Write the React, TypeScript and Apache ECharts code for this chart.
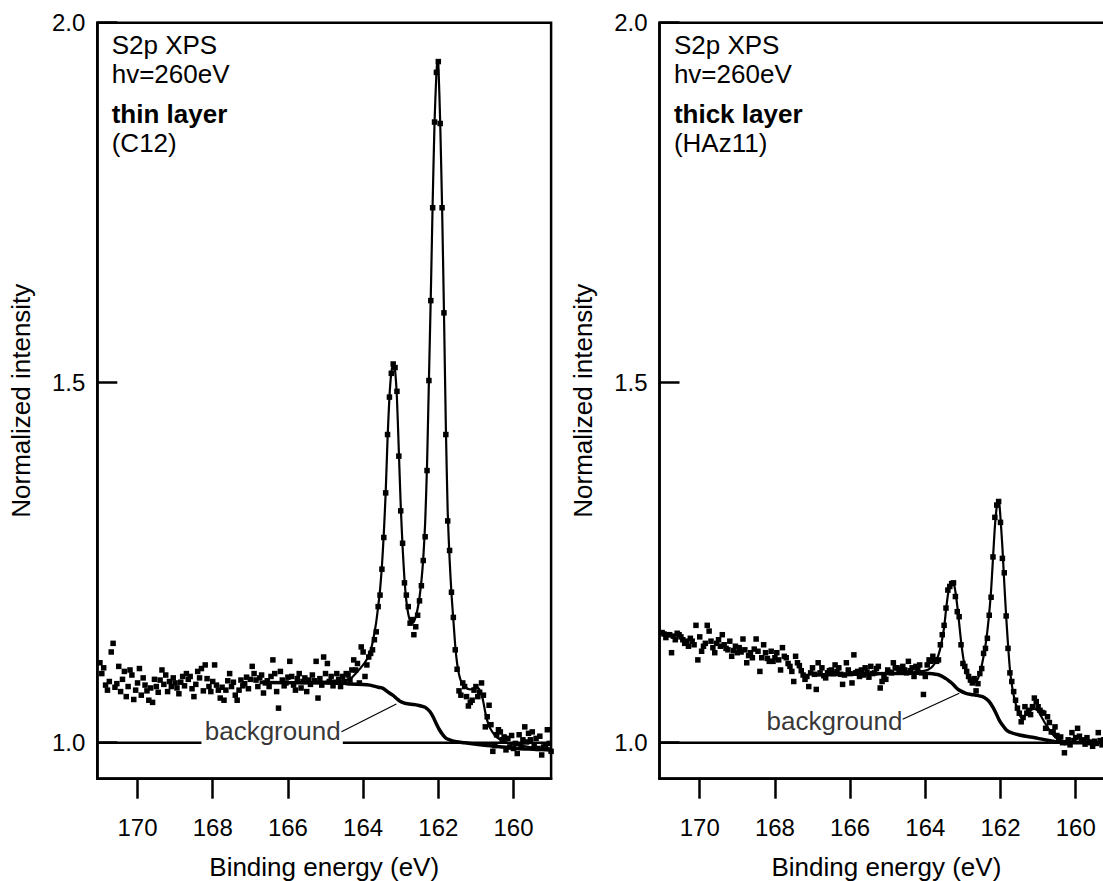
import React, { useEffect, useRef } from 'react';
import * as echarts from 'echarts';

// ---------- data ----------
const ENERGY_START = 171.0; // first sampled binding energy (eV)
const ENERGY_STEP = 0.05; // spectrometer step (eV)
const X_MIN = 159.0;
const X_MAX = 171.07;
const Y_MIN = 0.95;
const Y_MAX = 2.0;
const X_TICKS = [170, 168, 166, 164, 162, 160];
const Y_TICKS = [1.0, 1.5, 2.0];
const BASELINE = 1.0;

// thin layer (C12) measured points, 171.00 -> 159.00 eV
const thinCounts = [
  1.111, 1.096, 1.104, 1.080, 1.073, 1.085, 1.126, 1.138, 1.077, 1.082,
  1.106, 1.071, 1.088, 1.099, 1.064, 1.078, 1.101, 1.094, 1.060, 1.073,
  1.083, 1.103, 1.066, 1.090, 1.080, 1.072, 1.059, 1.076, 1.056, 1.088,
  1.078, 1.070, 1.087, 1.101, 1.081, 1.094, 1.071, 1.085, 1.078, 1.090,
  1.083, 1.076, 1.068, 1.084, 1.092, 1.079, 1.096, 1.088, 1.092, 1.075,
  1.064, 1.081, 1.099, 1.090, 1.103, 1.072, 1.108, 1.089, 1.078, 1.071,
  1.085, 1.108, 1.080, 1.073, 1.062, 1.077, 1.059, 1.073, 1.086, 1.096,
  1.078, 1.084, 1.066, 1.059, 1.073, 1.087, 1.079, 1.082, 1.091, 1.075,
  1.088, 1.106, 1.096, 1.087, 1.078, 1.090, 1.094, 1.069, 1.083, 1.086,
  1.078, 1.092, 1.115, 1.096, 1.071, 1.048, 1.099, 1.087, 1.079, 1.083,
  1.091, 1.113, 1.092, 1.080, 1.073, 1.089, 1.096, 1.076, 1.085, 1.090,
  1.071, 1.087, 1.081, 1.094, 1.086, 1.113, 1.062, 1.089, 1.080, 1.119,
  1.096, 1.110, 1.085, 1.092, 1.079, 1.084, 1.096, 1.088, 1.078, 1.092,
  1.085, 1.096, 1.094, 1.087, 1.101, 1.115, 1.101, 1.110, 1.083, 1.133,
  1.126, 1.092, 1.108, 1.119, 1.124, 1.129, 1.143, 1.154, 1.189, 1.205,
  1.241, 1.285, 1.347, 1.428, 1.480, 1.513, 1.526, 1.521, 1.488, 1.398,
  1.322, 1.277, 1.222, 1.205, 1.189, 1.166, 1.171, 1.150, 1.161, 1.177,
  1.197, 1.218, 1.253, 1.286, 1.378, 1.503, 1.614, 1.743, 1.862, 1.931,
  1.946, 1.860, 1.743, 1.597, 1.428, 1.308, 1.267, 1.209, 1.174, 1.129,
  1.102, 1.072, 1.066, 1.083, 1.078, 1.064, 1.051, 1.056, 1.059, 1.073,
  1.078, 1.064, 1.070, 1.083, 1.066, 1.022, 1.036, 1.052, 1.025, 0.988,
  0.996, 1.011, 1.018, 1.015, 1.004, 1.008, 0.990, 1.006, 0.994, 1.010,
  0.992, 0.999, 0.985, 1.011, 0.996, 1.004, 1.022, 1.001, 1.013, 1.004,
  1.015, 0.997, 1.006, 0.992, 1.009, 0.983, 0.994, 0.996, 1.018, 0.999,
  0.988,
];

// thick layer (HAz11) measured points, 171.00 -> 159.00 eV
const thickCounts = [
  1.153, 1.151, 1.146, 1.150, 1.150, 1.125, 1.148, 1.143, 1.152, 1.150,
  1.147, 1.143, 1.138, 1.141, 1.134, 1.145, 1.141, 1.136, 1.163, 1.115,
  1.147, 1.127, 1.134, 1.138, 1.163, 1.155, 1.141, 1.132, 1.125, 1.138,
  1.143, 1.134, 1.150, 1.136, 1.131, 1.129, 1.141, 1.120, 1.128, 1.134,
  1.125, 1.132, 1.126, 1.144, 1.129, 1.111, 1.121, 1.125, 1.118, 1.130,
  1.144, 1.127, 1.099, 1.118, 1.136, 1.125, 1.117, 1.113, 1.127, 1.113,
  1.118, 1.125, 1.115, 1.101, 1.132, 1.120, 1.118, 1.110, 1.106, 1.099,
  1.085, 1.120, 1.111, 1.107, 1.100, 1.094, 1.088, 1.092, 1.078, 1.097,
  1.104, 1.095, 1.074, 1.111, 1.097, 1.104, 1.093, 1.090, 1.097, 1.100,
  1.101, 1.096, 1.108, 1.099, 1.104, 1.095, 1.081, 1.094, 1.111, 1.101,
  1.096, 1.083, 1.122, 1.097, 1.099, 1.092, 1.101, 1.094, 1.104, 1.098,
  1.091, 1.106, 1.096, 1.097, 1.103, 1.106, 1.076, 1.085, 1.092, 1.088,
  1.101, 1.098, 1.097, 1.111, 1.104, 1.104, 1.101, 1.099, 1.106, 1.101,
  1.097, 1.113, 1.100, 1.104, 1.092, 1.106, 1.102, 1.108, 1.097, 1.067,
  1.092, 1.108, 1.115, 1.113, 1.120, 1.115, 1.113, 1.115, 1.136, 1.150,
  1.163, 1.187, 1.212, 1.217, 1.221, 1.222, 1.203, 1.182, 1.175, 1.136,
  1.110, 1.106, 1.099, 1.092, 1.087, 1.083, 1.089, 1.072, 1.082, 1.096,
  1.103, 1.124, 1.131, 1.145, 1.177, 1.202, 1.258, 1.313, 1.330, 1.335,
  1.306, 1.256, 1.236, 1.176, 1.131, 1.097, 1.085, 1.071, 1.059, 1.048,
  1.041, 1.029, 1.035, 1.050, 1.041, 1.045, 1.039, 1.050, 1.062, 1.057,
  1.050, 1.045, 1.042, 1.041, 1.020, 1.036, 1.028, 1.015, 1.015, 1.022,
  1.010, 1.005, 1.008, 1.000, 0.986, 1.000, 1.004, 0.997, 1.014, 1.003,
  1.007, 1.020, 1.009, 1.002, 1.004, 0.998, 1.007, 1.001, 1.000, 0.995,
  1.002, 0.999, 1.014, 1.003, 0.997, 1.004, 1.001, 0.998, 1.003, 1.000,
  0.999,
];

// fitted envelopes [eV, intensity]
const thinFit = [
  [166.75, 1.0835], [166.0, 1.0835], [165.5, 1.084], [165.0, 1.085], [164.6, 1.086],
  [164.36, 1.088], [164.18, 1.097], [164.0, 1.108], [163.9, 1.116], [163.82, 1.125],
  [163.74, 1.141], [163.65, 1.168], [163.6, 1.189], [163.55, 1.212], [163.5, 1.245],
  [163.45, 1.29], [163.4, 1.347], [163.35, 1.422], [163.3, 1.48], [163.25, 1.514],
  [163.2, 1.526], [163.15, 1.517], [163.1, 1.478], [163.05, 1.405], [163.0, 1.33],
  [162.95, 1.272], [162.9, 1.227], [162.85, 1.197], [162.8, 1.179], [162.75, 1.169],
  [162.7, 1.166], [162.65, 1.168], [162.6, 1.175], [162.55, 1.186], [162.5, 1.202],
  [162.45, 1.224], [162.4, 1.256], [162.35, 1.305], [162.3, 1.385], [162.25, 1.503],
  [162.2, 1.62], [162.15, 1.75], [162.1, 1.862], [162.05, 1.93], [162.02, 1.948],
  [162.0, 1.945], [161.95, 1.862], [161.9, 1.745], [161.85, 1.6], [161.8, 1.44],
  [161.75, 1.32], [161.7, 1.255], [161.65, 1.207], [161.6, 1.171], [161.55, 1.135],
  [161.5, 1.11], [161.45, 1.095], [161.4, 1.086], [161.35, 1.081], [161.25, 1.076],
  [161.15, 1.074], [161.05, 1.076], [161.0, 1.077], [160.92, 1.075], [160.85, 1.067],
  [160.8, 1.056], [160.75, 1.042], [160.7, 1.031], [160.64, 1.022], [160.55, 1.014],
  [160.46, 1.008], [160.3, 1.003], [160.11, 0.999], [159.8, 0.996], [159.58, 0.994],
  [159.0, 0.992],
];

const thinBackground = [
  [166.75, 1.0835], [165.0, 1.083], [164.5, 1.0825], [164.35, 1.0815], [164.0, 1.081],
  [163.82, 1.08], [163.6, 1.077], [163.47, 1.0755], [163.3, 1.069], [163.21, 1.066],
  [163.1, 1.061], [163.03, 1.058], [162.9, 1.055], [162.81, 1.054], [162.65, 1.053],
  [162.54, 1.052], [162.4, 1.05], [162.32, 1.048], [162.22, 1.043], [162.14, 1.036],
  [162.05, 1.026], [161.97, 1.018], [161.88, 1.011], [161.79, 1.006], [161.65, 1.003],
  [161.52, 1.0014], [161.3, 1.0], [160.99, 0.998], [160.7, 0.996], [160.37, 0.9944],
  [159.9, 0.992], [159.49, 0.991], [159.0, 0.99],
];

const thickFit = [
  [167.0, 1.094], [166.0, 1.095], [165.0, 1.096], [164.5, 1.097], [164.0, 1.1],
  [163.85, 1.104], [163.75, 1.11], [163.65, 1.122], [163.58, 1.136], [163.5, 1.16],
  [163.45, 1.184], [163.4, 1.205], [163.35, 1.217], [163.3, 1.222], [163.25, 1.222],
  [163.2, 1.21], [163.15, 1.19], [163.1, 1.166], [163.05, 1.141], [163.0, 1.121],
  [162.95, 1.106], [162.9, 1.096], [162.85, 1.089], [162.8, 1.085], [162.72, 1.083],
  [162.65, 1.085], [162.6, 1.089], [162.55, 1.097], [162.5, 1.107], [162.45, 1.12],
  [162.4, 1.135], [162.35, 1.155], [162.3, 1.18], [162.25, 1.212], [162.2, 1.256],
  [162.15, 1.3], [162.1, 1.328], [162.07, 1.336], [162.03, 1.331], [162.0, 1.312],
  [161.95, 1.272], [161.9, 1.222], [161.85, 1.176], [161.8, 1.136], [161.75, 1.102],
  [161.7, 1.081], [161.65, 1.066], [161.6, 1.055], [161.55, 1.046], [161.5, 1.039],
  [161.45, 1.035], [161.38, 1.036], [161.3, 1.04], [161.2, 1.045], [161.1, 1.047],
  [161.0, 1.044], [160.9, 1.035], [160.79, 1.025], [160.65, 1.014], [160.55, 1.008],
  [160.44, 1.004], [160.3, 1.001], [160.1, 1.0], [159.0, 1.0],
];

const thickBackground = [
  [167.0, 1.094], [165.0, 1.096], [164.2, 1.0965], [163.89, 1.096], [163.63, 1.094],
  [163.45, 1.089], [163.35, 1.085], [163.27, 1.0815], [163.17, 1.076], [163.1, 1.073],
  [162.92, 1.0685], [162.78, 1.067], [162.65, 1.066], [162.48, 1.064], [162.38, 1.061],
  [162.3, 1.057], [162.2, 1.049], [162.12, 1.041], [162.03, 1.031], [161.95, 1.0246],
  [161.85, 1.018], [161.77, 1.015], [161.5, 1.0107], [161.15, 1.0075], [160.79, 1.0037],
  [160.53, 1.0014], [160.26, 1.0], [159.0, 1.0],
];

// y = 1 reference line: segments [from eV, to eV] (left panel is interrupted by its label)
const thinBaselineSegments = [[X_MAX, 168.3], [164.54, X_MIN]];
const thickBaselineSegments = [[X_MAX, X_MIN]];

// annotations
const thinNotes = ['S2p XPS', 'hv=260eV', 'thin layer', '(C12)'];
const thickNotes = ['S2p XPS', 'hv=260eV', 'thick layer', '(HAz11)'];
const BG_TEXT = 'background';
const thinBgLabel = [166.406, 1.0163];
const thinBgLeader = [[164.576, 1.0153], [163.116, 1.0538]];
const thickBgLabel = [166.417, 1.03];
const thickBgLeader = [[164.603, 1.0325], [163.097, 1.0686]];
const X_NAME = 'Binding energy (eV)';
const Y_NAME = 'Normalized intensity';

// ---------- layout ----------
const FONT = '"Liberation Sans", Arial, Helvetica, sans-serif';
const GRID_LEFTS = [97.3, 659.5];
const GRID_TOP = 22.7;
const GRID_W = 453.8;
const GRID_H = 756;
const NOTE_YS = [44.5, 74, 113.5, 143];

function toPoints(values: number[]) {
  return values.map((v, i) => [+(ENERGY_START - i * ENERGY_STEP).toFixed(2), v]);
}

function buildOption() {
  const panels = [
    { counts: thinCounts, fit: thinFit, bg: thinBackground, label: thinBgLabel, leader: thinBgLeader, notes: thinNotes, base: thinBaselineSegments },
    { counts: thickCounts, fit: thickFit, bg: thickBackground, label: thickBgLabel, leader: thickBgLeader, notes: thickNotes, base: thickBaselineSegments },
  ];
  const black = '#000';
  const grid: any[] = [];
  const xAxis: any[] = [];
  const yAxis: any[] = [];
  const series: any[] = [];
  const graphic: any[] = [];

  panels.forEach((p, k) => {
    grid.push({
      left: GRID_LEFTS[k], top: GRID_TOP, width: GRID_W, height: GRID_H,
      outerBoundsMode: 'none', containLabel: false,
      show: true, borderColor: black, borderWidth: 2.5, backgroundColor: 'transparent',
    });
    xAxis.push({
      gridIndex: k, type: 'value', min: X_MIN, max: X_MAX, inverse: true,
      axisLine: { show: true, onZero: false, lineStyle: { color: black, width: 2.5 } },
      axisTick: { show: true, inside: false, length: 20, customValues: X_TICKS, lineStyle: { color: black, width: 2.5 } },
      axisLabel: { show: true, customValues: X_TICKS, fontSize: 24, fontFamily: FONT, color: black, margin: 37, formatter: (v: number) => String(v) },
      splitLine: { show: false },
      name: X_NAME, nameLocation: 'middle', nameGap: 75,
      nameTextStyle: { fontSize: 26, fontFamily: FONT, color: black },
    });
    yAxis.push({
      gridIndex: k, type: 'value', min: Y_MIN, max: Y_MAX,
      axisLine: { show: true, onZero: false, lineStyle: { color: black, width: 2.5 } },
      axisTick: { show: true, inside: true, length: 20, customValues: Y_TICKS, lineStyle: { color: black, width: 2.5 } },
      axisLabel: { show: true, customValues: Y_TICKS, fontSize: 24, fontFamily: FONT, color: black, margin: 12, formatter: (v: number) => v.toFixed(1) },
      splitLine: { show: false },
    });
    p.base.forEach((seg) => {
      series.push({
        type: 'line', xAxisIndex: k, yAxisIndex: k,
        data: [[seg[0], BASELINE], [seg[1], BASELINE]],
        symbol: 'none', showSymbol: false, lineStyle: { color: black, width: 2.5 }, z: 2, silent: true,
      });
    });
    series.push({
      type: 'scatter', xAxisIndex: k, yAxisIndex: k, data: toPoints(p.counts),
      symbol: 'rect', symbolSize: 5.5, itemStyle: { color: black, opacity: 1 }, z: 3, silent: true,
    });
    series.push({
      type: 'line', xAxisIndex: k, yAxisIndex: k, data: p.fit, symbol: 'none', showSymbol: false,
      smooth: 0.2, lineStyle: { color: black, width: 2.2 }, z: 4, silent: true,
    });
    series.push({
      type: 'line', xAxisIndex: k, yAxisIndex: k, data: p.bg, symbol: 'none', showSymbol: false,
      smooth: 0.3, lineStyle: { color: black, width: 3.5 }, z: 4, silent: true,
    });
    series.push({
      type: 'line', xAxisIndex: k, yAxisIndex: k, data: p.leader, symbol: 'none', showSymbol: false,
      lineStyle: { color: black, width: 1.2 }, z: 5, silent: true,
    });
    series.push({
      type: 'scatter', xAxisIndex: k, yAxisIndex: k, data: [p.label], symbolSize: 1,
      itemStyle: { color: 'transparent' }, z: 10, silent: true,
      label: {
        show: true, position: 'inside', formatter: BG_TEXT, fontSize: 26, fontFamily: FONT, color: black,
        align: 'center', verticalAlign: 'middle',
      },
    });

    p.notes.forEach((t, j) => {
      graphic.push({
        type: 'text', silent: true, x: GRID_LEFTS[k] + 14.4, y: NOTE_YS[j],
        style: {
          text: t, fontSize: 26, lineHeight: 22, fontFamily: FONT, fontWeight: j === 2 ? 'bold' : 'normal',
          fill: black, align: 'left', verticalAlign: 'middle',
        },
      });
    });
    graphic.push({
      type: 'text', silent: true, x: GRID_LEFTS[k] - 76.3, y: GRID_TOP + GRID_H / 2,
      rotation: Math.PI / 2,
      style: { text: Y_NAME, fontSize: 26, fontFamily: FONT, fill: black, align: 'center', verticalAlign: 'middle' },
    });
  });

  return {
    animation: false,
    backgroundColor: '#ffffff',
    textStyle: { fontFamily: FONT, color: '#000' },
    grid, xAxis, yAxis, series, graphic,
  };
}

export default function App() {
  const ref = useRef<HTMLDivElement>(null);
  useEffect(() => {
    if (!ref.current) return;
    const chart = echarts.init(ref.current, undefined, { renderer: 'svg' });
    chart.setOption(buildOption() as any);
    return () => chart.dispose();
  }, []);
  return (
    <div
      ref={ref}
      style={{ position: 'absolute', left: 0, top: 0, width: 1103, height: 881, background: '#fff' }}
    />
  );
}
